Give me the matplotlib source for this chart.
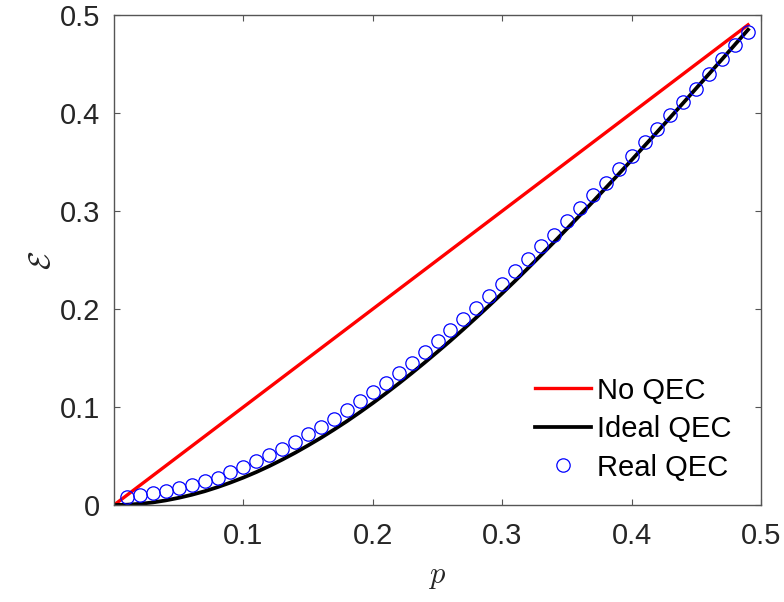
import numpy as np
import matplotlib
matplotlib.use('Agg')
import matplotlib.pyplot as plt

# values
p_ends = [0.0, 0.49]
no_qec = [0.0, 0.49]

p_line = np.round(np.arange(0, 0.50, 0.01), 2)
ideal_qec = [0.0000, 0.0003, 0.0012, 0.0026, 0.0047, 0.0073, 0.0104, 0.0140, 0.0182, 0.0229,
             0.0280, 0.0336, 0.0397, 0.0463, 0.0533, 0.0608, 0.0686, 0.0769, 0.0855, 0.0946,
             0.1040, 0.1138, 0.1239, 0.1344, 0.1452, 0.1563, 0.1676, 0.1793, 0.1913, 0.2035,
             0.2160, 0.2287, 0.2417, 0.2549, 0.2682, 0.2818, 0.2955, 0.3094, 0.3235, 0.3377,
             0.3520, 0.3665, 0.3810, 0.3957, 0.4104, 0.4253, 0.4401, 0.4550, 0.4700, 0.4850]

p_real = p_line[1:]
real_qec = [0.008, 0.010, 0.012, 0.014, 0.017, 0.020, 0.024, 0.028, 0.034,
            0.039, 0.045, 0.051, 0.057, 0.064, 0.072, 0.080, 0.088, 0.097, 0.106,
            0.115, 0.125, 0.135, 0.145, 0.156, 0.167, 0.179, 0.190, 0.201, 0.213,
            0.226, 0.239, 0.251, 0.264, 0.276, 0.290, 0.303, 0.316, 0.329, 0.343,
            0.356, 0.370, 0.384, 0.398, 0.411, 0.425, 0.440, 0.455, 0.469, 0.483]

plt.rcParams['font.family'] = ['Liberation Sans', 'DejaVu Sans']
plt.rcParams['mathtext.fontset'] = 'cm'

fig = plt.figure(figsize=(7.84, 6.02), dpi=100)
ax = fig.add_axes([114 / 784, 97 / 602, 647 / 784, 490 / 602])

ax.plot(p_ends, no_qec, color='red', lw=2.4, label='No QEC')
ax.plot(p_line, ideal_qec, color='black', lw=2.7, label='Ideal QEC')
ax.plot(p_real, real_qec, 'o', mfc='none', mec='blue', ms=9.6, mew=0.9, label='Real QEC')

ax.set_xlim(0, 0.5)
ax.set_ylim(0, 0.5)
ax.set_xticks([0.1, 0.2, 0.3, 0.4, 0.5])
ax.set_yticks([0, 0.1, 0.2, 0.3, 0.4, 0.5])
ax.set_xticklabels(['0.1', '0.2', '0.3', '0.4', '0.5'])
ax.set_yticklabels(['0', '0.1', '0.2', '0.3', '0.4', '0.5'])

grey = '#262626'
for side in ax.spines.values():
    side.set_color('#555555')
    side.set_linewidth(1.0)
ax.tick_params(direction='in', top=True, right=True, length=4, width=0.8,
               colors='#555555', labelcolor=grey, labelsize=21)
ax.tick_params(axis='x', pad=12)
ax.tick_params(axis='y', pad=10)

ax.set_xlabel('$p$', fontsize=22, color=grey, labelpad=8)
ax.set_ylabel(r'$\mathcal{E}$', fontsize=22, color=grey, labelpad=2)

ax.legend(loc='lower right', frameon=False, fontsize=21, handlelength=1.9,
          handletextpad=0.2, labelspacing=0.36, borderaxespad=0.4,
          bbox_to_anchor=(0.99, 0.0))

fig.savefig('out.png', dpi=100)
